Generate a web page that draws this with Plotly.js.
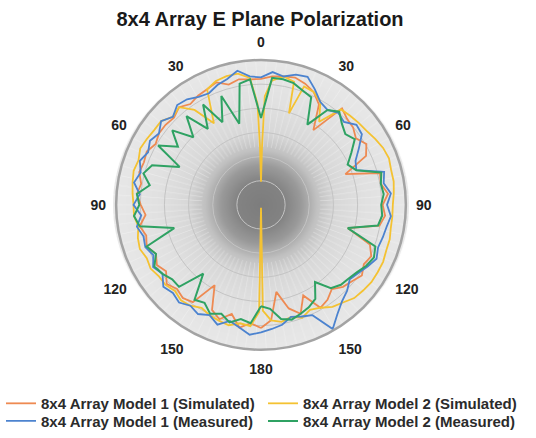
<!DOCTYPE html>
<html>
<head>
<meta charset="utf-8">
<script src="https://cdn.plot.ly/plotly-3.0.1.min.js"></script>
<style>html,body{margin:0;padding:0;background:#fff;}#chart{width:536px;height:438px;}</style>
</head>
<body>
<div id="chart"></div>
<script>
// ---- data (dB, 0 = outer ring) ----
const thetaGrid = [-180,-175,-170,-165,-160,-155,-150,-145,-140,-135,-130,-125,-120,-115,-110,-105,-100,-95,-90,-85,-80,-75,-70,-65,-60,-55,-50,-45,-40,-35,-30,-25,-20,-15,-10,-5,0,5,10,15,20,25,30,35,40,45,50,55,60,65,70,75,80,85,90,95,100,105,110,115,120,125,130,135,140,145,150,155,160,165,170,175,180];

const model1Simulated = [-4.5,-5.4,-4.2,-6.6,-4.8,-6,-10.8,-5.4,-4.8,-5.4,-4.5,-6,-5.1,-6,-4.8,-5.4,-4.5,-6,-5.1,-4.2,-4.8,-3.9,-4.2,-3.9,-4.8,-4.2,-4.2,-4.5,-3.6,-4.5,-3.9,-3.6,-3,-4.2,-3.6,-3.9,-3.9,-3.3,-3,-2.7,-3.3,-4.2,-6,-11.1,-3.9,-4.8,-5.1,-6,-4.8,-6,-11.4,-4.5,-4.8,-3.6,-4.8,-4.2,-5.1,-11.4,-6,-4.8,-5.4,-4.5,-5.4,-6,-7.2,-6,-5.4,-9.3,-6,-7.8,-11.7,-6,-4.5];

const model1Measured = [-3.6,-3,-4.2,-5.1,-3.6,-4.8,-3.9,-4.5,-3.6,-4.2,-3.6,-5.1,-4.2,-5.4,-4.5,-4.8,-3.9,-5.1,-3.6,-4.8,-3.3,-4.2,-3.3,-4.2,-3.45,-4.2,-3,-4.2,-3,-3.3,-4.2,-4.5,-3.6,-3,-1.8,-3.3,-3.6,-2.4,-3,-2.1,-1.8,-3.6,-5.4,-6,-5.1,-5.7,-4.2,-4.5,-6.6,-8.4,-9,-3.6,-4.2,-3,-3.9,-3,-3.6,-3.9,-4.2,-3.6,-4.5,-5.4,-6,-4.8,-3.9,-2.4,-0.3,-4.8,-5.4,-6,-4.8,-4.2,-3.6];

const model2Measured = [-9,-5.4,-6,-4.8,-6,-5.1,-6.6,-6,-11.4,-6,-6,-5.1,-4.5,-6,-4.8,-11.4,-4.5,-3.6,-4.8,-4.2,-6.6,-4.8,-6,-11.4,-5.4,-9,-6,-10.2,-6,-10.8,-6,-11.1,-6,-12.6,-4.5,-3.9,-12,-3.6,-3.6,-3.9,-4.8,-5.4,-10.8,-6,-4.8,-6.3,-7.2,-6.3,-8.4,-10.2,-9,-4.2,-4.8,-4.5,-5.1,-4.8,-5.4,-11.4,-4.8,-4.2,-4.8,-5.7,-6.3,-6.6,-7.5,-10.5,-7.5,-6.6,-6,-5.4,-6,-8.4,-9];

const model2Theta = [-180,-179,-175,-170,-165,-160,-155,-150,-145,-140,-135,-130,-125,-120,-115,-110,-105,-100,-95,-90,-85,-80,-75,-70,-65,-60,-55,-50,-45,-40,-35,-30,-25,-20,-15,-10,-5,-2,-1,0,1,2,5,10,15,17,20,25,30,35,40,45,50,55,60,65,70,75,80,85,90,95,100,105,110,115,120,125,130,135,140,145,150,155,160,165,170,175,179,180];
const model2Simulated = [-29.4,-7.8,-4.8,-5.1,-4.2,-4.5,-4.8,-5.4,-4.5,-4.2,-4.8,-4.2,-4.2,-3.6,-3.9,-3.3,-3.6,-4.2,-3.6,-3.6,-3.3,-3,-2.7,-3,-2.4,-2.7,-3,-3,-4.2,-3.6,-6,-10.5,-3.6,-2.7,-2.4,-2.4,-3.6,-9,-18,-25.2,-18,-7.5,-4.2,-3,-3.6,-10.2,-3.9,-4.2,-5.4,-9,-4.2,-3.9,-3.6,-3.3,-2.7,-2.1,-1.8,-2.1,-2.1,-2.4,-2.7,-2.7,-2.7,-2.4,-2.4,-2.1,-2.1,-2.1,-2.4,-2.7,-3.6,-4.2,-5.4,-6,-5.1,-6,-5.4,-6,-8.1,-29.4];

const seriesNames = ['8x4 Array Model 1 (Simulated)','8x4 Array Model 2 (Simulated)','8x4 Array Model 1 (Measured)','8x4 Array Model 2 (Measured)'];
const labelAngles = [0,30,60,90,120,150,180,210,240,270,300,330];
const labelTexts  = ['0','30','60','90','120','150','180','150','120','90','60','30'];

// ---- layout constants ----
const W = 536, H = 438;
const M = {l: 0, r: 0, t: 60, b: 0};
const CX = 261, RAD = 148;               // circle centre x and radius in px
const plotW = W - M.l - M.r, plotH = H - M.t - M.b;
const domX = [(CX - RAD - M.l) / plotW, (CX + RAD - M.l) / plotW];
const domY = [1 - 2 * RAD / plotH, 1];
const py = v => 1 - (v - M.t) / plotH;   // px (from top) -> paper y
const px = v => (v - M.l) / plotW;

function makeBg() {
  const S = 600, c = document.createElement('canvas');
  c.width = c.height = S;
  const ctx = c.getContext('2d');
  const g = ctx.createRadialGradient(S/2, S/2, 0, S/2, S/2, S/2);
  g.addColorStop(0.0, '#7d7d7d');
  g.addColorStop(0.16, '#838383');
  g.addColorStop(0.27, '#9a9a9a');
  g.addColorStop(0.38, '#c2c2c2');
  g.addColorStop(0.5, '#d8d8d8');
  g.addColorStop(0.7, '#e1e1e1');
  g.addColorStop(1.0, '#e8e8e8');
  ctx.fillStyle = g;
  ctx.beginPath(); ctx.arc(S/2, S/2, S/2, 0, 2 * Math.PI); ctx.fill();
  // faint fine radial hatching, strongest in the outer ring
  ctx.strokeStyle = 'rgba(255,255,255,0.45)';
  ctx.lineWidth = 1.2;
  for (let a = 0; a < 360; a += 4) {
    const t = a * Math.PI / 180;
    ctx.beginPath();
    ctx.moveTo(S/2 + Math.cos(t) * S * 0.2, S/2 + Math.sin(t) * S * 0.2);
    ctx.lineTo(S/2 + Math.cos(t) * S * 0.5, S/2 + Math.sin(t) * S * 0.5);
    ctx.stroke();
  }
  return c.toDataURL('image/png');
}

const font = 'Liberation Sans, Arial, Helvetica, sans-serif';
const colors = ['#EE8A52', '#F4C232', '#4C83CF', '#2FA263'];
const legFont = {family: font, size: 15, weight: 'bold', color: '#2b2b2b'};
const legendIds = ['legend', 'legend2', 'legend3', 'legend4'];

const traces = [
  {type:'scatterpolar', mode:'lines', name: seriesNames[0], legend: legendIds[0], theta: thetaGrid, r: model1Simulated, line:{color: colors[0], width:1.8}},
  {type:'scatterpolar', mode:'lines', name: seriesNames[1], legend: legendIds[1], theta: model2Theta, r: model2Simulated, line:{color: colors[1], width:1.8}},
  {type:'scatterpolar', mode:'lines', name: seriesNames[2], legend: legendIds[2], theta: thetaGrid, r: model1Measured, line:{color: colors[2], width:1.8}},
  {type:'scatterpolar', mode:'lines', name: seriesNames[3], legend: legendIds[3], theta: thetaGrid, r: model2Measured, line:{color: colors[3], width:2}}
];

function leg(xPx, yPx) {
  return {orientation:'v', x: px(xPx), xanchor:'left', y: py(yPx), yanchor:'middle',
          itemwidth:30, font: legFont, bgcolor:'rgba(0,0,0,0)', borderwidth:0};
}

const layout = {
  width: W, height: H,
  margin: M,
  paper_bgcolor: '#ffffff',
  showlegend: true,
  title: {text: '8x4 Array E Plane Polarization', font:{family: font, size: 20, weight: 'bold', color:'#1a1a1a'},
          x: 260 / W, xanchor:'center', y: 1 - 19/H, yanchor:'middle'},
  polar: {
    domain: {x: domX, y: domY},
    bgcolor: 'rgba(0,0,0,0)',
    radialaxis: {range:[-30,0], tick0:0, dtick:5, showticklabels:false, ticks:'', showline:false,
                 gridcolor:'#c4c4c4', gridwidth:1},
    angularaxis: {rotation:90, direction:'clockwise', tickmode:'array', tickvals: labelAngles, ticktext: labelTexts,
                  showline:true, linecolor:'#a3a3a3', linewidth:2.5, showgrid:false,
                  ticks:'outside', ticklen:6, tickcolor:'rgba(0,0,0,0)',
                  tickfont:{family: font, size:14, weight:'bold', color:'#222'}}
  },
  legend:  leg(1, 411),
  legend2: leg(263, 411),
  legend3: leg(1, 429),
  legend4: leg(263, 429),
  images: [{source: makeBg(), xref:'paper', yref:'paper',
            x: domX[0], y: domY[1], sizex: domX[1] - domX[0], sizey: domY[1] - domY[0],
            xanchor:'left', yanchor:'top', sizing:'stretch', layer:'below'}]
};

Plotly.newPlot('chart', traces, layout, {displayModeBar:false, staticPlot:true});
</script>
</body>
</html>
